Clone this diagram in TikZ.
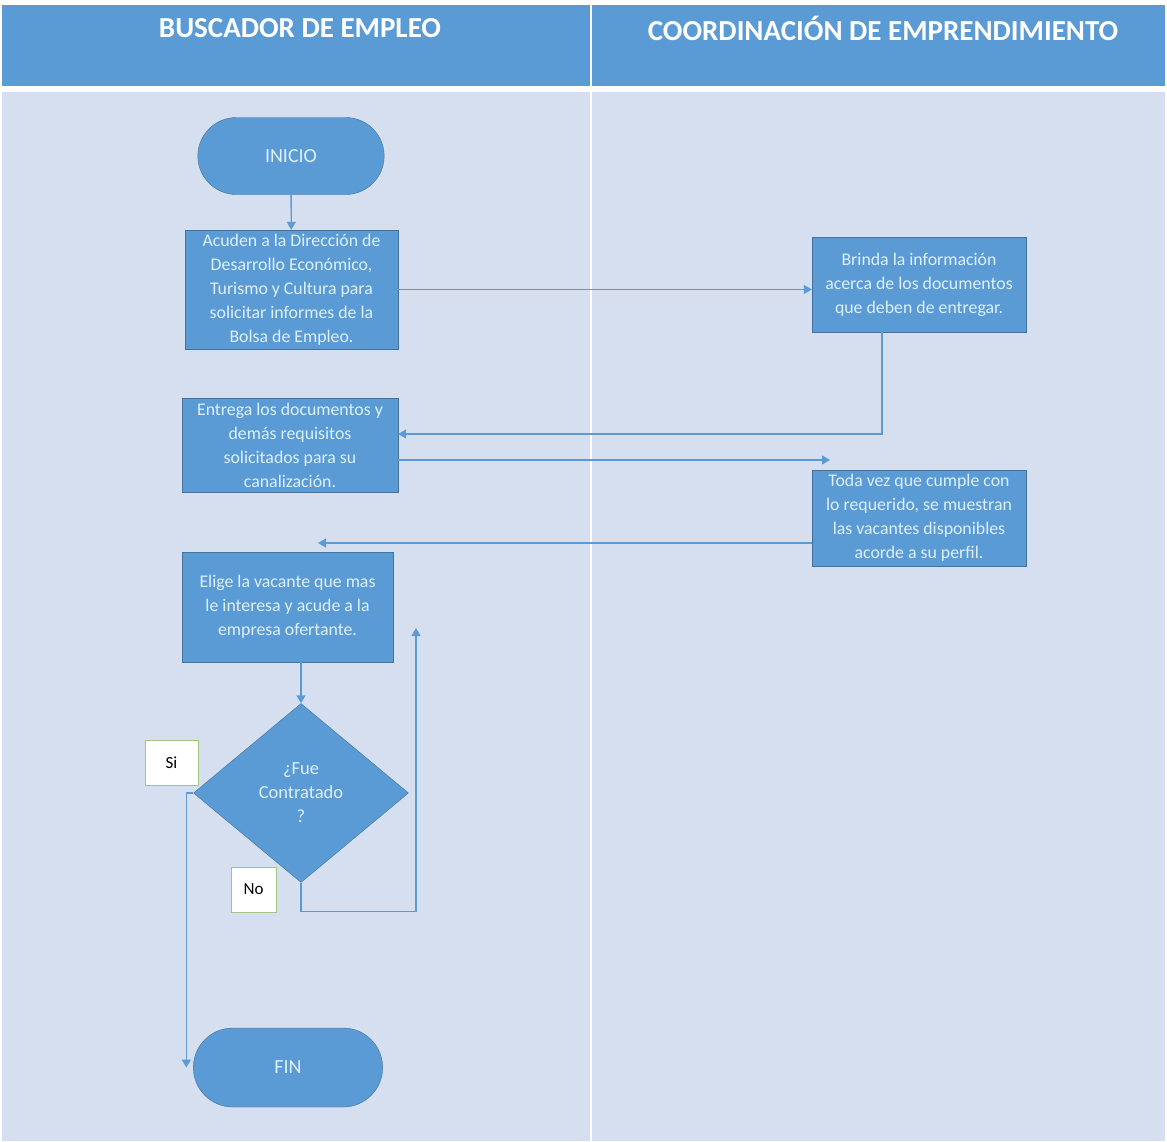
\documentclass[tikz,border=0pt]{standalone}
\usepackage{fontspec}
\setmainfont{Carlito}
\usetikzlibrary{positioning,shapes.geometric,shapes.misc,arrows.meta}

\definecolor  {headerColor}{RGB}{ 91, 155, 213}
\definecolor    {laneColor}{RGB}{213, 223, 239}
\definecolor    {stepColor}{RGB}{ 91, 155, 213}
\definecolor  {borderColor}{RGB}{ 65, 113, 156}
\definecolor    {textColor}{RGB}{222, 240, 252}
\definecolor   {labelColor}{RGB}{160, 196, 130}

\begin{document}
\begin{tikzpicture}[
  x=1pt, y=-1pt,
  lane title/.style  ={text=white, font=\bfseries\fontsize{29}{31}\selectfont},
  flow step/.style   ={rectangle, draw=borderColor, fill=stepColor, text=textColor,
                       align=center, font=\fontsize{17.8}{24}\selectfont, inner sep=1pt},
  flow end/.style    ={rounded rectangle, draw=borderColor, fill=stepColor, text=textColor,
                       font=\fontsize{20}{22}\selectfont},
  flow test/.style   ={diamond, draw=borderColor, fill=stepColor, text=textColor, align=center,
                       font=\fontsize{18.5}{24}\selectfont, inner sep=0pt, aspect=1.2},
  answer/.style      ={rectangle, draw=labelColor, fill=white, text=black,
                       font=\fontsize{17}{19}\selectfont},
  flow line/.style   ={draw=stepColor, line width=1.4pt,
                       -{Triangle[width=9pt,length=8pt]}},
]
%%%%%%%%%%%%%%%%%%%%%%%%%%%%%%%%%%%%%%%%%%%%%%%%%%%%%%%%%%%%%%%%%%%%%%%%%%%%%%%%%%%%%%%%%
%
%   LANES
%
%%%%%%%%%%%%%%%%%%%%%%%%%%%%%%%%%%%%%%%%%%%%%%%%%%%%%%%%%%%%%%%%%%%%%%%%%%%%%%%%%%%%%%%%%
\useasboundingbox (0,0) rectangle (1167,1141);
\fill[headerColor] (2,5) rectangle (1165,86);
\fill[laneColor]   (2,92) rectangle (1165,1141);
\draw[white, line width=2.5pt] (591,5) -- (591,1141);

\node[lane title] (buscador) at (300,28) {BUSCADOR DE EMPLEO};
\node[lane title] (coord)    at (883,28) {COORDINACIÓN DE EMPRENDIMIENTO};

%%%%%%%%%%%%%%%%%%%%%%%%%%%%%%%%%%%%%%%%%%%%%%%%%%%%%%%%%%%%%%%%%%%%%%%%%%%%%%%%%%%%%%%%%
%
%   STEPS
%
%%%%%%%%%%%%%%%%%%%%%%%%%%%%%%%%%%%%%%%%%%%%%%%%%%%%%%%%%%%%%%%%%%%%%%%%%%%%%%%%%%%%%%%%%
\node[flow end, minimum width=193pt, minimum height=77pt] (inicio) at (291,156) {INICIO};

\node[flow step, minimum width=213pt, minimum height=119pt] (acuden) at (291.5,289.5)
  {Acuden a la Dirección de\\Desarrollo Económico,\\Turismo y Cultura para\\solicitar informes de la\\Bolsa de Empleo.};

\node[flow step, minimum width=214pt, minimum height=95pt] (brinda) at (919,284.5)
  {Brinda la información\\acerca de los documentos\\que deben de entregar.};

\node[flow step, minimum width=216pt, minimum height=94pt] (entrega) at (290,445)
  {Entrega los documentos y\\demás requisitos\\solicitados para su\\canalización.};

\node[flow step, minimum width=214pt, minimum height=96pt] (vacantes) at (919,518)
  {Toda vez que cumple con\\lo requerido, se muestran\\las vacantes disponibles\\acorde a su perfil.};

\node[flow step, minimum width=211pt, minimum height=110pt] (elige) at (287.5,607)
  {Elige la vacante que mas\\le interesa y acude a la\\empresa ofertante.};

\node[flow test, minimum width=215pt, minimum height=179pt] (contratado) at (301,793)
  {¿Fue\\Contratado\\?};

\node[answer, minimum width=53pt, minimum height=45pt] (si) at (171.5,762.5) {Si};
\node[answer, minimum width=45pt, minimum height=45pt] (no) at (253.5,889.5) {No};

\node[flow end, minimum width=196pt, minimum height=79pt] (fin) at (288,1067.5) {FIN};

%%%%%%%%%%%%%%%%%%%%%%%%%%%%%%%%%%%%%%%%%%%%%%%%%%%%%%%%%%%%%%%%%%%%%%%%%%%%%%%%%%%%%%%%%
%
%   CONNECTORS
%
%%%%%%%%%%%%%%%%%%%%%%%%%%%%%%%%%%%%%%%%%%%%%%%%%%%%%%%%%%%%%%%%%%%%%%%%%%%%%%%%%%%%%%%%%
\coordinate (toVacantes) at (830,460);
\coordinate (toElige)    at (318,543);
\coordinate (retry)      at (416,628);

\draw[flow line] (inicio) -- (acuden);
\draw[flow line] (acuden.east) -- (acuden.east -| brinda.west);
\draw[flow line] ([xshift=-37pt]brinda.south) |- ([yshift=11pt]entrega.east);
\draw[flow line] ([yshift=-15pt]entrega.east) -- (toVacantes);
\draw[flow line] ([yshift=-25pt]vacantes.west) -- (toElige);
\draw[flow line] (elige.south -| contratado.north) -- (contratado.north);

% no: back up to the choice
\draw[flow line] (contratado.south) -- ++(0,29) -| (retry);

% si: down to the end
\draw[flow line] (contratado.west) -- ++(-7,0) coordinate (siTurn) -- (siTurn |- fin.west);

\end{tikzpicture}
\end{document}
